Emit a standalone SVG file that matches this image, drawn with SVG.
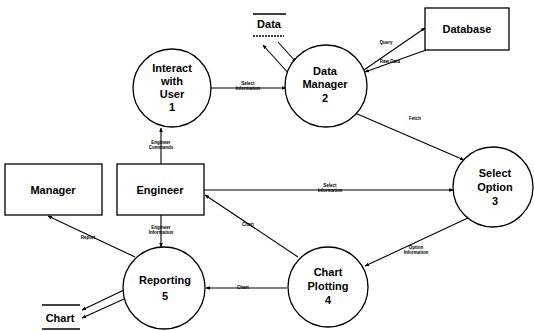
<svg xmlns="http://www.w3.org/2000/svg" width="534" height="331" viewBox="0 0 534 331">
  <style>
    .proc { fill: #fff; stroke: #000; stroke-width: 1.3; }
    .ent { fill: #fff; stroke: #000; stroke-width: 1.3; }
    .store { stroke: #000; stroke-width: 1.3; }
    .t { font-family: "Liberation Sans", Arial, sans-serif; font-size: 11px; font-weight: bold; text-anchor: middle; fill: #000; }
    .lbl { font-family: "Liberation Sans", Arial, sans-serif; font-size: 4.5px; font-weight: bold; text-anchor: middle; fill: #000; }
    .flow { fill: none; stroke: #000; stroke-width: 1.1; marker-end: url(#arr); }
  </style>
  <defs>
    <marker id="arr" viewBox="0 0 6 6" refX="5.5" refY="3" markerWidth="4" markerHeight="4" orient="auto">
      <path d="M0,0.5 L6,3 L0,5.5 Z" fill="#000"/>
    </marker>
  </defs>

  <!-- data flows -->
  <g id="connectors">
    <line class="flow" x1="211" y1="88" x2="286" y2="88"/>
    <line class="flow" x1="289" y1="74" x2="263" y2="45"/>
    <line class="flow" x1="278" y1="42" x2="296" y2="62"/>
    <line class="flow" x1="361" y1="72" x2="425" y2="28"/>
    <line class="flow" x1="426" y1="50" x2="365" y2="72"/>
    <line class="flow" x1="355" y1="113" x2="464" y2="160"/>
    <line class="flow" x1="161" y1="164" x2="161" y2="128"/>
    <line class="flow" x1="204" y1="190" x2="453" y2="190"/>
    <line class="flow" x1="470" y1="217" x2="365" y2="266"/>
    <line class="flow" x1="298" y1="257" x2="205" y2="195"/>
    <line class="flow" x1="287" y1="288" x2="206" y2="288"/>
    <line class="flow" x1="161" y1="215" x2="161" y2="247"/>
    <line class="flow" x1="135" y1="257" x2="48" y2="216"/>
    <line class="flow" x1="124" y1="290" x2="82" y2="310"/>
    <line class="flow" x1="124" y1="299" x2="82" y2="318"/>

    <text class="lbl" x="248" y="85">Select</text>
    <text class="lbl" x="248" y="90">Information</text>
    <text class="lbl" x="386" y="44">Query</text>
    <text class="lbl" x="390" y="63">Raw Data</text>
    <text class="lbl" x="415" y="120">Fetch</text>
    <text class="lbl" x="161" y="144">Engineer</text>
    <text class="lbl" x="161" y="149">Commands</text>
    <text class="lbl" x="330" y="187">Select</text>
    <text class="lbl" x="330" y="192">Information</text>
    <text class="lbl" x="416" y="249">Option</text>
    <text class="lbl" x="416" y="254">Information</text>
    <text class="lbl" x="248" y="226">Chart</text>
    <text class="lbl" x="243" y="289">Chart</text>
    <text class="lbl" x="161" y="229">Engineer</text>
    <text class="lbl" x="161" y="234">Information</text>
    <text class="lbl" x="88" y="239">Report</text>
  </g>

  <g id="interact">
    <circle class="proc" cx="172" cy="88" r="39"/>
    <text class="t" x="172" y="72">Interact</text>
    <text class="t" x="172" y="85">with</text>
    <text class="t" x="172" y="98">User</text>
    <text class="t" x="172" y="111">1</text>
  </g>

  <g id="data-manager">
    <circle class="proc" cx="326" cy="86" r="41"/>
    <text class="t" x="325" y="75">Data</text>
    <text class="t" x="325" y="88">Manager</text>
    <text class="t" x="325" y="102">2</text>
  </g>

  <g id="data-store">
    <line class="store" x1="253" y1="14" x2="286" y2="14"/>
    <text class="t" x="269" y="28">Data</text>
    <line class="store" x1="253" y1="36" x2="284" y2="36" stroke-dasharray="2 1"/>
  </g>

  <g id="database">
    <rect class="ent" x="425" y="8" width="84" height="42"/>
    <text class="t" x="467" y="33">Database</text>
  </g>

  <g id="select-option">
    <circle class="proc" cx="493" cy="187" r="40"/>
    <text class="t" x="495" y="177">Select</text>
    <text class="t" x="495" y="191">Option</text>
    <text class="t" x="495" y="205">3</text>
  </g>

  <g id="engineer">
    <rect class="ent" x="117" y="164" width="87" height="51"/>
    <text class="t" x="160" y="194">Engineer</text>
  </g>

  <g id="manager">
    <rect class="ent" x="5" y="164" width="97" height="51"/>
    <text class="t" x="53" y="194">Manager</text>
  </g>

  <g id="chart-plotting">
    <circle class="proc" cx="328" cy="287" r="40"/>
    <text class="t" x="328" y="276">Chart</text>
    <text class="t" x="328" y="290">Plotting</text>
    <text class="t" x="328" y="304">4</text>
  </g>

  <g id="reporting">
    <circle class="proc" cx="164" cy="288" r="41"/>
    <text class="t" x="165" y="284">Reporting</text>
    <text class="t" x="165" y="300">5</text>
  </g>

  <g id="chart-store">
    <line class="store" x1="42" y1="305" x2="80" y2="305"/>
    <text class="t" x="60" y="322">Chart</text>
    <line class="store" x1="42" y1="329" x2="80" y2="329"/>
  </g>
</svg>
